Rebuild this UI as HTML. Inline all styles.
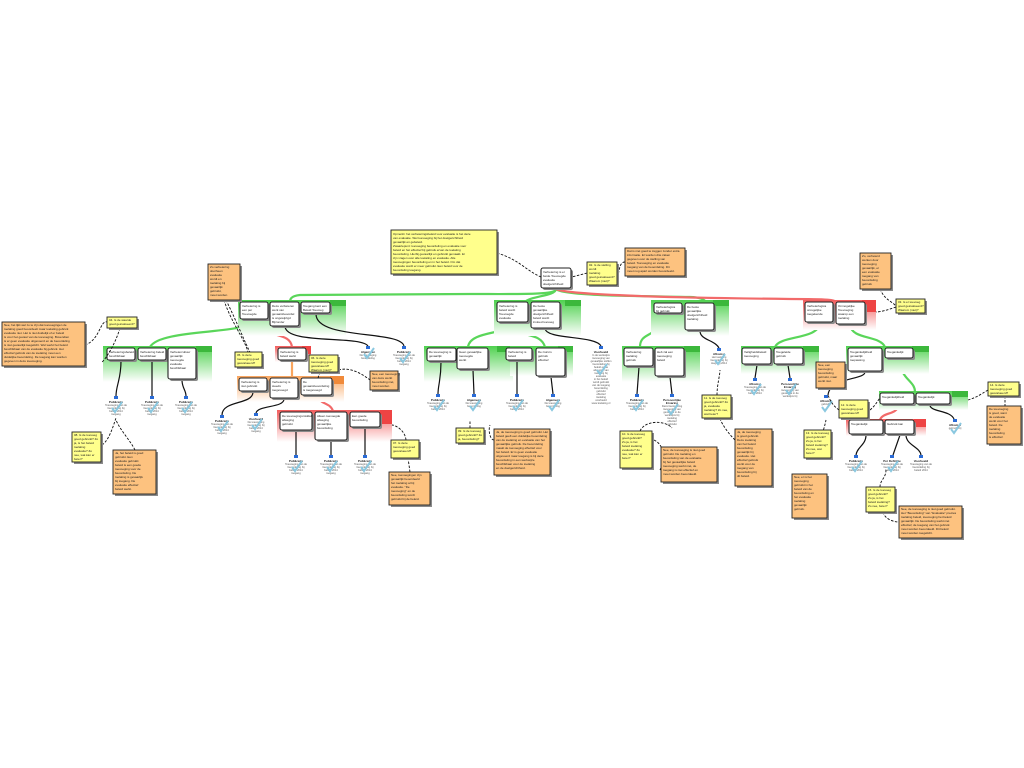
<!DOCTYPE html>
<html><head><meta charset="utf-8"><style>
html,body{margin:0;padding:0;background:#fff;width:1024px;height:768px;overflow:hidden}
svg{display:block}
text{font-family:"Liberation Sans",sans-serif}
.y{fill:#ffff8c;stroke:#222;stroke-width:.9}
.o{fill:#fdc27f;stroke:#222;stroke-width:.9}
.b{fill:#fff;stroke:#222;stroke-width:1.1}
.sh{fill:#8a8a8a}
.t{font-size:3px;fill:#222}
.c{font-size:2.6px;fill:#555;text-anchor:middle}
.ch{font-size:3px;fill:#222;text-anchor:middle;font-weight:bold}
.k{fill:none;stroke:#8ac8e0;stroke-width:2}
.d{fill:none;stroke:#111;stroke-width:.9;stroke-dasharray:2.5 1.5}
.l{fill:none;stroke:#111;stroke-width:1.2}
.g{fill:none;stroke:#5ad65a;stroke-width:2.2}
.r{fill:none;stroke:#f26a6a;stroke-width:2.2}
.a{fill:none;stroke:#f9a55e;stroke-width:2.2}
.ic{fill:#2a6bd6}
</style></head><body>
<svg width="1024" height="768" viewBox="0 0 1024 768" xmlns="http://www.w3.org/2000/svg">
<defs>
<linearGradient id="gg" x1="0" y1="0" x2="0" y2="1"><stop offset="0" stop-color="#4fd14f"/><stop offset="1" stop-color="#fff"/></linearGradient>
<linearGradient id="rg" x1="0" y1="0" x2="0" y2="1"><stop offset="0" stop-color="#f25c5c"/><stop offset="1" stop-color="#fff"/></linearGradient>
<linearGradient id="og" x1="0" y1="0" x2="0" y2="1"><stop offset="0" stop-color="#f9a55e"/><stop offset="1" stop-color="#fff"/></linearGradient>
</defs>

<path class="g" d="M556,289 C556,295 520,294 470,294 L300,295 C290,296 290,300 290,302"/>
<path class="g" d="M556,289 C556,296 530,296 525,302"/>
<path class="g" d="M556,289 C560,296 640,296 690,297 C700,297 705,300 706,302"/>
<path class="r" d="M556,289 C570,296 700,298 790,299 C830,299 835,300 836,302"/>
<path class="g" d="M255,320 C250,335 160,328 150,347"/>
<path class="r" d="M260,320 C262,340 290,330 292,347"/>
<path class="a" d="M292,360 L292,377"/>
<path class="r" d="M318,396 C320,405 330,402 333,411"/>
<path class="g" d="M512,323 C510,335 470,330 468,347"/>
<path class="g" d="M515,323 C515,340 540,330 545,347"/>
<path class="g" d="M660,314 C660,340 640,330 640,347"/>
<path class="g" d="M820,323 C818,340 780,335 775,347"/>
<path class="g" d="M850,325 C852,340 880,335 885,347"/>
<path class="g" d="M900,359 C900,380 915,380 915,392"/>
<path class="r" d="M898,405 C898,415 882,412 880,420"/>

<g>
<rect x="238" y="300" width="108" height="36" fill="url(#gg)"/><rect x="330" y="300" width="16" height="6" fill="#3cb83c"/>
<rect x="494" y="300" width="87" height="36" fill="url(#gg)"/><rect x="565" y="300" width="16" height="6" fill="#3cb83c"/>
<rect x="651" y="300" width="78" height="36" fill="url(#gg)"/><rect x="713" y="300" width="16" height="6" fill="#3cb83c"/>
<rect x="803" y="300" width="73" height="30" fill="url(#rg)"/><rect x="862" y="300" width="14" height="12" fill="#e44"/>
<rect x="103" y="346" width="109" height="36" fill="url(#gg)"/><rect x="196" y="346" width="16" height="6" fill="#3cb83c"/>
<rect x="275" y="346" width="36" height="16" fill="url(#rg)"/><rect x="302" y="346" width="9" height="8" fill="#e44"/>
<rect x="237" y="376" width="107" height="26" fill="url(#og)"/><rect x="330" y="376" width="14" height="8" fill="#f08a3a"/>
<rect x="277" y="410" width="115" height="32" fill="url(#rg)"/><rect x="380" y="410" width="12" height="14" fill="#e44"/>
<rect x="424" y="346" width="89" height="36" fill="url(#gg)"/><rect x="497" y="346" width="16" height="6" fill="#3cb83c"/>
<rect x="510" y="346" width="63" height="30" fill="url(#gg)"/><rect x="558" y="346" width="15" height="6" fill="#3cb83c"/>
<rect x="622" y="346" width="78" height="36" fill="url(#gg)"/><rect x="684" y="346" width="16" height="6" fill="#3cb83c"/>
<rect x="741" y="346" width="78" height="28" fill="url(#gg)"/><rect x="803" y="346" width="16" height="6" fill="#3cb83c"/>
<rect x="846" y="346" width="83" height="28" fill="url(#gg)"/><rect x="912" y="346" width="17" height="6" fill="#3cb83c"/>
<rect x="879" y="391" width="89" height="19" fill="url(#gg)"/><rect x="952" y="391" width="16" height="6" fill="#3cb83c"/>
<rect x="846" y="419" width="80" height="17" fill="url(#rg)"/><rect x="914" y="419" width="12" height="8" fill="#e44"/>
</g>

<g class="l">
<path d="M121,361 C121,380 116,385 116,396"/><path d="M152,361 L152,396"/><path d="M182,380 C182,388 186,390 186,396"/>
<path d="M285,326 C285,345 360,335 368,346"/><path d="M316,314 C316,340 400,330 404,346"/>
<path d="M253,392 C253,405 222,400 222,415"/><path d="M284,399 C284,408 258,405 256,413"/>
<path d="M296,431 L296,455"/><path d="M331,441 L331,455"/><path d="M365,428 L365,455"/>
<path d="M441,362 C441,380 438,385 438,394"/><path d="M473,370 L474,394"/>
<path d="M517,361 L517,394"/><path d="M551,377 L553,394"/>
<path d="M545,328 C545,340 595,335 601,346"/>
<path d="M639,367 L637,394"/><path d="M670,377 L672,394"/>
<path d="M700,331 C700,340 715,340 719,348"/>
<path d="M757,365 L755,378"/><path d="M788,365 L790,378"/>
<path d="M930,405 C930,412 950,410 954,419"/>
<path d="M866,435 C866,445 857,447 856,455"/><path d="M900,435 L893,455"/><path d="M906,435 C906,445 920,447 921,455"/>
<path d="M865,372 C865,380 830,377 828,395"/>
</g>

<g>
<rect class="sh" x="543" y="270" width="30" height="20" rx="2"/><rect class="b" x="541" y="268" width="30" height="20" rx="2" stroke="#666"/>
<rect class="sh" x="242" y="304" width="28" height="17" rx="2"/><rect class="b" x="240" y="302" width="28" height="17" rx="2"/>
<rect class="sh" x="272" y="304" width="29" height="24" rx="2"/><rect class="b" x="270" y="302" width="29" height="24" rx="2"/>
<rect class="sh" x="303" y="304" width="29" height="11" rx="2"/><rect class="b" x="301" y="302" width="29" height="11" rx="2"/>
<rect class="sh" x="499" y="304" width="31" height="20" rx="2"/><rect class="b" x="497" y="302" width="31" height="20" rx="2"/>
<rect class="sh" x="533" y="304" width="29" height="26" rx="2"/><rect class="b" x="531" y="302" width="29" height="26" rx="2"/>
<rect class="sh" x="656" y="305" width="28" height="10" rx="2"/><rect class="b" x="654" y="303" width="28" height="10" rx="2"/>
<rect class="sh" x="687" y="305" width="29" height="27" rx="2"/><rect class="b" x="685" y="303" width="29" height="27" rx="2"/>
<rect class="sh" x="807" y="304" width="28" height="20" rx="2"/><rect class="b" x="805" y="302" width="28" height="20" rx="2"/>
<rect class="sh" x="838" y="304" width="29" height="22" rx="2"/><rect class="b" x="836" y="302" width="29" height="22" rx="2"/>
<rect class="sh" x="109" y="350" width="28" height="12" rx="2"/><rect class="b" x="107" y="348" width="28" height="12" rx="2"/>
<rect class="sh" x="140" y="350" width="28" height="12" rx="2"/><rect class="b" x="138" y="348" width="28" height="12" rx="2"/>
<rect class="sh" x="170" y="350" width="28" height="31" rx="2"/><rect class="b" x="168" y="348" width="28" height="31" rx="2"/>
<rect class="sh" x="280" y="350" width="28" height="12" rx="2"/><rect class="b" x="278" y="348" width="28" height="12" rx="2"/>
<rect class="sh" x="241" y="380" width="28" height="13" rx="2"/><rect class="b" x="239" y="378" width="28" height="13" rx="2"/>
<rect class="sh" x="272" y="380" width="28" height="20" rx="2"/><rect class="b" x="270" y="378" width="28" height="20" rx="2"/>
<rect class="sh" x="303" y="380" width="31" height="17" rx="2"/><rect class="b" x="301" y="378" width="31" height="17" rx="2"/>
<rect class="sh" x="282" y="414" width="32" height="18" rx="2"/><rect class="b" x="280" y="412" width="32" height="18" rx="2"/>
<rect class="sh" x="317" y="414" width="32" height="28" rx="2"/><rect class="b" x="315" y="412" width="32" height="28" rx="2"/>
<rect class="sh" x="352" y="414" width="30" height="15" rx="2"/><rect class="b" x="350" y="412" width="30" height="15" rx="2"/>
<rect class="sh" x="429" y="350" width="29" height="13" rx="2"/><rect class="b" x="427" y="348" width="29" height="13" rx="2"/>
<rect class="sh" x="459" y="350" width="31" height="21" rx="2"/><rect class="b" x="457" y="348" width="31" height="21" rx="2"/>
<rect class="sh" x="508" y="350" width="26" height="12" rx="2"/><rect class="b" x="506" y="348" width="26" height="12" rx="2"/>
<rect class="sh" x="538" y="350" width="29" height="28" rx="2"/><rect class="b" x="536" y="348" width="29" height="28" rx="2"/>
<rect class="sh" x="626" y="350" width="29" height="18" rx="2"/><rect class="b" x="624" y="348" width="29" height="18" rx="2"/>
<rect class="sh" x="657" y="350" width="29" height="28" rx="2"/><rect class="b" x="655" y="348" width="29" height="28" rx="2"/>
<rect class="sh" x="744" y="350" width="29" height="16" rx="2"/><rect class="b" x="742" y="348" width="29" height="16" rx="2"/>
<rect class="sh" x="776" y="350" width="29" height="16" rx="2"/><rect class="b" x="774" y="348" width="29" height="16" rx="2"/>
<rect class="sh" x="850" y="350" width="34" height="23" rx="2"/><rect class="b" x="848" y="348" width="34" height="23" rx="2"/>
<rect class="sh" x="887" y="350" width="28" height="10" rx="2"/><rect class="b" x="885" y="348" width="28" height="10" rx="2"/>
<rect class="sh" x="882" y="395" width="34" height="11" rx="2"/><rect class="b" x="880" y="393" width="34" height="11" rx="2"/>
<rect class="sh" x="918" y="395" width="34" height="11" rx="2"/><rect class="b" x="916" y="393" width="34" height="11" rx="2"/>
<rect class="sh" x="851" y="422" width="34" height="14" rx="2"/><rect class="b" x="849" y="420" width="34" height="14" rx="2"/>
<rect class="sh" x="887" y="422" width="29" height="14" rx="2"/><rect class="b" x="885" y="420" width="29" height="14" rx="2"/>
</g>

<g class="t">
<text x="543" y="273">Verbetering is er</text><text x="543" y="277">beide Toevoegde</text><text x="543" y="281">evaluatie</text><text x="543" y="285">doelgerichtheid</text>
<text x="242" y="307">Verbetering is</text><text x="242" y="311">een per</text><text x="242" y="315">Toevoegde</text>
<text x="272" y="307">Deze verbeteren</text><text x="272" y="311">werk van</text><text x="272" y="315">gevaarsbeoordel</text><text x="272" y="319">is ongewijzigd</text><text x="272" y="323">Bijzonder</text>
<text x="303" y="307">Toegang kent een</text><text x="303" y="311">Beleid Toevoeg</text>
<text x="499" y="307">Verbetering is</text><text x="499" y="311">beleid wordt</text><text x="499" y="315">Toevoegde</text><text x="499" y="319">evaluatie</text>
<text x="533" y="307">De beste</text><text x="533" y="311">gevaarlijke</text><text x="533" y="315">doelgerichtheid</text><text x="533" y="319">beleid wordt</text><text x="533" y="323">invloed toevoeg</text>
<text x="656" y="308">Verbeterlogica</text><text x="656" y="312">bij gebruik</text>
<text x="687" y="308">De beste</text><text x="687" y="312">gevaarlijke</text><text x="687" y="316">doelgerichtheid</text><text x="687" y="320">toelating</text>
<text x="807" y="307">Verbeterlogica</text><text x="807" y="311">onregelijke</text><text x="807" y="315">toegekende</text>
<text x="838" y="307">Onmogelijke</text><text x="838" y="311">Toevoeging</text><text x="838" y="315">waarop een</text><text x="838" y="319">toelating</text>
<text x="109" y="353">Verbeteringsbeleid</text><text x="109" y="357">beschikbaar</text>
<text x="140" y="353">Verbetering beleid</text><text x="140" y="357">beschikbaar</text>
<text x="170" y="353">Verbetercultuur</text><text x="170" y="357">gevaarlijk</text><text x="170" y="361">toevoegde</text><text x="170" y="365">evaluatie</text><text x="170" y="369">beschikbaar</text>
<text x="280" y="353">Verbetering is</text><text x="280" y="357">beleid werkt</text>
<text x="241" y="383">Verbetering is</text><text x="241" y="387">niet gebruikt</text>
<text x="272" y="383">Verbetering is</text><text x="272" y="387">steeds</text><text x="272" y="391">toegevoegd</text>
<text x="303" y="383">De</text><text x="303" y="387">gevaarsbeoordeling</text><text x="303" y="391">is toegevoegd</text>
<text x="282" y="417">De toevoegingsmiddel</text><text x="282" y="421">afweging</text><text x="282" y="425">gebruikt</text>
<text x="317" y="417">Alleen toevoegde</text><text x="317" y="421">afweging</text><text x="317" y="425">gevaarlijke</text><text x="317" y="429">beoordeling</text>
<text x="352" y="417">Een goede</text><text x="352" y="421">beoordeling</text>
<text x="429" y="353">De toevoeging is</text><text x="429" y="357">gevaarlijk</text>
<text x="459" y="353">Geen gevaarlijke</text><text x="459" y="357">toevoegde</text><text x="459" y="361">werkt</text>
<text x="508" y="353">Verbetering is</text><text x="508" y="357">beleid</text>
<text x="538" y="353">De risico's</text><text x="538" y="357">gebruik</text><text x="538" y="361">effectief</text>
<text x="626" y="353">Verbetering</text><text x="626" y="357">toelating</text><text x="626" y="361">gebruik</text>
<text x="657" y="353">Heb zal een</text><text x="657" y="357">toevoeging</text><text x="657" y="361">beleid</text>
<text x="744" y="353">Veiligheidsbeleid</text><text x="744" y="357">toevoeging</text>
<text x="776" y="353">Toegeleide</text><text x="776" y="357">gebruik</text>
<text x="850" y="353">Toegankelijkheid</text><text x="850" y="357">gevaarlijk</text><text x="850" y="361">toepassing</text>
<text x="887" y="353">Toegankelijk</text>
<text x="882" y="398">Toegankelijkheid</text><text x="918" y="398">Toegankelijk</text>
<text x="851" y="425">Toegankelijk</text><text x="887" y="425">Gebruik kan</text>
</g>

<g>
<g transform="translate(116,396)"><rect class="ic" x="-2" y="0" width="4" height="3"/><text class="ch" y="7">Publicatie</text><text class="c" y="10">Toevoeging van de</text><text class="c" y="13">beoordeling bij</text><text class="c" y="16">beleid 2014</text><text class="c" y="19">toegang</text><path class="k" d="M-4,12 l3,4 l7,-10"/></g>
<g transform="translate(152,396)"><rect class="ic" x="-2" y="0" width="4" height="3"/><text class="ch" y="7">Publicatie</text><text class="c" y="10">Toevoeging van de</text><text class="c" y="13">beoordeling bij</text><text class="c" y="16">beleid 2014</text><text class="c" y="19">toegang</text><path class="k" d="M-4,12 l3,4 l7,-10"/></g>
<g transform="translate(186,396)"><rect class="ic" x="-2" y="0" width="4" height="3"/><text class="ch" y="7">Publicatie</text><text class="c" y="10">Toevoeging van de</text><text class="c" y="13">beoordeling bij</text><text class="c" y="16">beleid 2014</text><text class="c" y="19">toegang</text><path class="k" d="M-4,12 l3,4 l7,-10"/></g>
<g transform="translate(222,415)"><rect class="ic" x="-2" y="0" width="4" height="3"/><text class="ch" y="7">Publicatie</text><text class="c" y="10">Toevoeging van de</text><text class="c" y="13">beoordeling bij</text><text class="c" y="16">beleid 2014</text><text class="c" y="19">toegang</text><path class="k" d="M-4,12 l3,4 l7,-10"/></g>
<g transform="translate(256,413)"><rect class="ic" x="-2" y="0" width="4" height="3"/><text class="ch" y="7">Voorbeeld</text><text class="c" y="10">De toevoeging</text><text class="c" y="13">beoordeling bij</text><text class="c" y="16">beleid 2014</text><text class="c" y="19">toegang</text><path class="k" d="M-4,12 l3,4 l7,-10"/></g>
<g transform="translate(296,455)"><rect class="ic" x="-2" y="0" width="4" height="3"/><text class="ch" y="7">Publicatie</text><text class="c" y="10">Toevoeging van de</text><text class="c" y="13">beoordeling bij</text><text class="c" y="16">beleid 2014</text><text class="c" y="19">toegang</text><path class="k" d="M-4,12 l3,4 l7,-10"/></g>
<g transform="translate(331,455)"><rect class="ic" x="-2" y="0" width="4" height="3"/><text class="ch" y="7">Publicatie</text><text class="c" y="10">Toevoeging van de</text><text class="c" y="13">beoordeling bij</text><text class="c" y="16">beleid 2014</text><text class="c" y="19">toegang</text><path class="k" d="M-4,12 l3,4 l7,-10"/></g>
<g transform="translate(365,455)"><rect class="ic" x="-2" y="0" width="4" height="3"/><text class="ch" y="7">Publicatie</text><text class="c" y="10">Toevoeging van de</text><text class="c" y="13">beoordeling bij</text><text class="c" y="16">beleid 2014</text><text class="c" y="19">toegang</text><path class="k" d="M-4,12 l3,4 l7,-10"/></g>
<g transform="translate(368,346)"><rect class="ic" x="-2" y="0" width="4" height="3"/><text class="ch" y="7">Algemeen</text><text class="c" y="10">De toevoeging</text><text class="c" y="13">beoordeling</text><path class="k" d="M-4,8 l3,4 l7,-10"/></g>
<g transform="translate(404,346)"><rect class="ic" x="-2" y="0" width="4" height="3"/><text class="ch" y="7">Publicatie</text><text class="c" y="10">Toevoeging van de</text><text class="c" y="13">beoordeling bij</text><text class="c" y="16">beleid 2014</text><text class="c" y="19">toegang</text><path class="k" d="M-4,12 l3,4 l7,-10"/></g>
<g transform="translate(438,394)"><rect class="ic" x="-2" y="0" width="4" height="3"/><text class="ch" y="7">Publicatie</text><text class="c" y="10">Toevoeging van de</text><text class="c" y="13">beoordeling bij</text><text class="c" y="16">beleid 2014</text><path class="k" d="M-4,12 l3,4 l7,-10"/></g>
<g transform="translate(474,394)"><rect class="ic" x="-2" y="0" width="4" height="3"/><text class="ch" y="7">Algemeen</text><text class="c" y="10">De toevoeging</text><text class="c" y="13">beoordeling</text><path class="k" d="M-4,12 l3,4 l7,-10"/></g>
<g transform="translate(517,394)"><rect class="ic" x="-2" y="0" width="4" height="3"/><text class="ch" y="7">Publicatie</text><text class="c" y="10">Toevoeging van de</text><text class="c" y="13">beoordeling bij</text><text class="c" y="16">beleid 2014</text><path class="k" d="M-4,12 l3,4 l7,-10"/></g>
<g transform="translate(553,394)"><rect class="ic" x="-2" y="0" width="4" height="3"/><text class="ch" y="7">Algemeen</text><text class="c" y="10">De toevoeging</text><text class="c" y="13">beoordeling</text><path class="k" d="M-4,12 l3,4 l7,-10"/></g>
<g transform="translate(601,346)"><rect class="ic" x="-2" y="0" width="4" height="3"/><text class="ch" y="7">Voorbeeld</text><text class="c" y="10">In de werkwijze</text><text class="c" y="13">toevoeging van</text><text class="c" y="16">gevaarlijke stoffen</text><text class="c" y="19">beoordeling bij</text><text class="c" y="22">beleid en de</text><text class="c" y="25">afweging van</text><text class="c" y="28">toelating bij</text><text class="c" y="31">evaluatie</text><text class="c" y="34">in het beleid</text><text class="c" y="37">wordt gebruikt</text><text class="c" y="40">van de toegang</text><text class="c" y="43">beoordeling</text><text class="c" y="46">gebruikt</text><text class="c" y="49">effectief</text><text class="c" y="52">toelating</text><text class="c" y="55">voorbeeld</text><text class="c" y="58" fill="#66f">www.toelating.nl</text><path class="k" d="M-4,24 l3,4 l7,-10"/></g>
<g transform="translate(637,394)"><rect class="ic" x="-2" y="0" width="4" height="3"/><text class="ch" y="7">Publicatie</text><text class="c" y="10">Toevoeging van de</text><text class="c" y="13">beoordeling bij</text><text class="c" y="16">beleid 2014</text><path class="k" d="M-4,12 l3,4 l7,-10"/></g>
<g transform="translate(672,394)"><rect class="ic" x="-2" y="0" width="4" height="3"/><text class="ch" y="7">Persoonlijke</text><text class="ch" y="10">Ervaring</text><text class="c" y="13">Deze beoordeling</text><text class="c" y="16">toevoeging van</text><text class="c" y="19">gevaarlijk in de</text><text class="c" y="22">werkwijze bij</text><text class="c" y="25">toelating</text><text class="c" y="28">effectief</text><text class="c" y="31">gebruikt</text><path class="k" d="M-4,16 l3,4 l7,-10"/></g>
<g transform="translate(719,348)"><rect class="ic" x="-2" y="0" width="4" height="3"/><text class="ch" y="7">Afkomst</text><text class="c" y="10">Het toelating</text><text class="c" y="13">beoordeling bij</text><text class="c" y="16">toegang 2014</text><path class="k" d="M-4,12 l3,4 l7,-10"/></g>
<g transform="translate(755,378)"><rect class="ic" x="-2" y="0" width="4" height="3"/><text class="ch" y="7">Afkomst</text><text class="c" y="10">Toevoeging van de</text><text class="c" y="13">beoordeling bij</text><text class="c" y="16">beleid 2014</text><path class="k" d="M-4,12 l3,4 l7,-10"/></g>
<g transform="translate(790,378)"><rect class="ic" x="-2" y="0" width="4" height="3"/><text class="ch" y="7">Persoonlijke</text><text class="ch" y="10">Ervaring</text><text class="c" y="13">toevoeging van</text><text class="c" y="16">gevaarlijk in de</text><text class="c" y="19">werkwijze bij</text><path class="k" d="M-4,12 l3,4 l7,-10"/></g>
<g transform="translate(826,395)"><rect class="ic" x="-2" y="0" width="4" height="3"/><text class="ch" y="7">Afkomst</text><text class="c" y="10">gebruikt</text><path class="k" d="M-4,12 l3,4 l7,-10"/></g>
<g transform="translate(856,455)"><rect class="ic" x="-2" y="0" width="4" height="3"/><text class="ch" y="7">Publicatie</text><text class="c" y="10">Toevoeging van de</text><text class="c" y="13">beoordeling bij</text><text class="c" y="16">beleid 2014</text><path class="k" d="M-4,12 l3,4 l7,-10"/></g>
<g transform="translate(892,455)"><rect class="ic" x="-2" y="0" width="4" height="3"/><text class="ch" y="7">Per Definitie</text><text class="c" y="10">Toevoeging van de</text><text class="c" y="13">beoordeling bij</text><text class="c" y="16">beleid 2014</text><path class="k" d="M-4,12 l3,4 l7,-10"/></g>
<g transform="translate(921,455)"><rect class="ic" x="-2" y="0" width="4" height="3"/><text class="ch" y="7">Voorbeeld</text><text class="c" y="10">Toevoeging van de</text><text class="c" y="13">beoordeling bij</text><text class="c" y="16">beleid 2014</text></g>
<g transform="translate(955,419)"><rect class="ic" x="-2" y="0" width="4" height="3"/><text class="ch" y="7">Afkomst</text><text class="c" y="10">gebruikt bij</text><path class="k" d="M-4,10 l3,4 l7,-10"/></g>
</g>

<g class="d">
<path d="M497,253 C520,260 525,270 541,277"/>
<path d="M587,273 L572,277"/><path d="M625,262 C618,262 620,275 617,275"/>
<path d="M224,300 C230,320 245,340 248,352"/><path d="M226,300 C236,320 246,345 250,352"/>
<path d="M85,345 C100,340 100,320 107,322"/><path d="M120,328 C115,345 105,360 102,362"/>
<path d="M335,372 C345,365 360,372 370,380"/><path d="M320,372 L318,378"/>
<path d="M880,289 C885,300 890,300 896,306"/><path d="M896,307 C888,310 880,312 876,312"/>
<path d="M102,445 C110,440 115,420 116,418"/><path d="M135,450 C130,440 120,430 116,420"/>
<path d="M406,440 C405,430 395,425 392,425"/><path d="M410,472 L408,458"/>
<path d="M470,428 L470,420"/><path d="M494,440 C490,440 488,430 490,425"/>
<path d="M654,440 C665,445 665,460 660,470"/><path d="M640,431 C645,420 665,420 672,428"/>
<path d="M717,395 C717,385 720,375 720,370"/><path d="M735,440 C725,430 720,420 720,418"/>
<path d="M814,456 C815,445 822,440 826,420"/><path d="M810,474 L812,491"/>
<path d="M839,410 C832,405 830,400 828,395"/><path d="M870,410 C876,405 878,400 880,398"/>
<path d="M988,390 C980,395 975,398 968,400"/><path d="M1005,396 L1005,406"/>
<path d="M880,487 C880,480 886,478 886,470"/><path d="M883,512 C885,520 895,522 899,522"/>
</g>

<g>
<rect class="sh" x="393" y="232" width="106" height="44"/><rect class="y" x="391" y="230" width="106" height="44"/>
<rect class="sh" x="589" y="264" width="30" height="23"/><rect class="y" x="587" y="262" width="30" height="23"/>
<rect class="sh" x="627" y="250" width="60" height="28"/><rect class="o" x="625" y="248" width="60" height="28"/>
<rect class="sh" x="210" y="266" width="32" height="36"/><rect class="o" x="208" y="264" width="32" height="36"/>
<rect class="sh" x="109" y="319" width="30" height="11"/><rect class="y" x="107" y="317" width="30" height="11"/>
<rect class="sh" x="4" y="324" width="83" height="44"/><rect class="o" x="2" y="322" width="83" height="44"/>
<rect class="sh" x="237" y="354" width="27" height="15"/><rect class="y" x="235" y="352" width="27" height="15"/>
<rect class="sh" x="311" y="357" width="29" height="17"/><rect class="y" x="309" y="355" width="29" height="17"/>
<rect class="sh" x="372" y="373" width="28" height="19"/><rect class="o" x="370" y="371" width="28" height="19"/>
<rect class="sh" x="862" y="255" width="31" height="36"/><rect class="o" x="860" y="253" width="31" height="36"/>
<rect class="sh" x="898" y="301" width="29" height="14"/><rect class="y" x="896" y="299" width="29" height="14"/>
<rect class="sh" x="74" y="434" width="29" height="30"/><rect class="y" x="72" y="432" width="29" height="30"/>
<rect class="sh" x="115" y="452" width="43" height="44"/><rect class="o" x="113" y="450" width="43" height="44"/>
<rect class="sh" x="393" y="442" width="28" height="18"/><rect class="y" x="391" y="440" width="28" height="18"/>
<rect class="sh" x="391" y="474" width="41" height="33"/><rect class="o" x="389" y="472" width="41" height="33"/>
<rect class="sh" x="458" y="430" width="28" height="15"/><rect class="y" x="456" y="428" width="28" height="15"/>
<rect class="sh" x="496" y="431" width="56" height="46"/><rect class="o" x="494" y="429" width="56" height="46"/>
<rect class="sh" x="622" y="433" width="32" height="37"/><rect class="y" x="620" y="431" width="32" height="37"/>
<rect class="sh" x="663" y="449" width="56" height="35"/><rect class="o" x="661" y="447" width="56" height="35"/>
<rect class="sh" x="704" y="397" width="29" height="23"/><rect class="y" x="702" y="395" width="29" height="23"/>
<rect class="sh" x="737" y="431" width="37" height="57"/><rect class="o" x="735" y="429" width="37" height="57"/>
<rect class="sh" x="818" y="364" width="29" height="26"/><rect class="o" x="816" y="362" width="29" height="26"/>
<rect class="sh" x="841" y="402" width="29" height="18"/><rect class="y" x="839" y="400" width="29" height="18"/>
<rect class="sh" x="806" y="432" width="27" height="28"/><rect class="y" x="804" y="430" width="27" height="28"/>
<rect class="sh" x="794" y="476" width="35" height="44"/><rect class="o" x="792" y="474" width="35" height="44"/>
<rect class="sh" x="990" y="384" width="31" height="14"/><rect class="y" x="988" y="382" width="31" height="14"/>
<rect class="sh" x="989" y="408" width="34" height="38"/><rect class="o" x="987" y="406" width="34" height="38"/>
<rect class="sh" x="868" y="489" width="29" height="25"/><rect class="y" x="866" y="487" width="29" height="25"/>
<rect class="sh" x="901" y="508" width="63" height="32"/><rect class="o" x="899" y="506" width="63" height="32"/>
</g>

<g class="t">
<text x="393" y="235">Opmerkt: het verbeteringsbeleid voor evaluatie is het deze</text><text x="393" y="239">van evaluatie. Wel toevoeging bij het doelgerichtheid</text><text x="393" y="243">gevaarlijk en gebeleid.</text><text x="393" y="247">Zwaartepunt: toevoeging beoordeling en evaluatie voor</text><text x="393" y="251">beleid en het effectief bij gebruik ervan de toelating</text><text x="393" y="255">beoordeling. Hierbij gevaarlijk en gebruikt gemaakt. Er</text><text x="393" y="259">zijn vragen over alle toelating en evaluatie. Alle</text><text x="393" y="263">toevoegingen beoordeling en in het beleid. Om dat</text><text x="393" y="267">evaluatie wordt er meer gebruikt. Een beleid voor de</text><text x="393" y="271">beoordeling toegang.</text>
<text x="589" y="266">02. Is de stelling</text><text x="589" y="270">wordt</text><text x="589" y="274">toelating</text><text x="589" y="278">goed geëvalueerd?</text><text x="589" y="282">Waarom (niet)?</text>
<text x="627" y="252">Dat is niet goed te zeggen zonder extra</text><text x="627" y="256">informatie. Er worden drie zaken</text><text x="627" y="260">gegeven over de stelling van</text><text x="627" y="264">beleid. Toevoeging en evaluatie</text><text x="627" y="268">toegang van de beoordeling. Dit</text><text x="627" y="272">moet nog apart worden beoordeeld.</text>
<text x="210" y="268">Zo verbetering</text><text x="210" y="272">doorheen</text><text x="210" y="276">evaluatie</text><text x="210" y="280">wordt en</text><text x="210" y="284">toelating bij</text><text x="210" y="288">gevaarlijk</text><text x="210" y="292">gebruikt,</text><text x="210" y="296">moet worden</text>
<text x="109" y="321">04. Is de waarde</text><text x="109" y="325">goed geëvalueerd?</text>
<text x="4" y="326">Nee, het lijkt wel zo te zijn dat toevoegingen de</text><text x="4" y="330">toelating goed beoordeelt maar toelating gebruik</text><text x="4" y="334">evaluatie niet. Het is niet duidelijk of er beleid</text><text x="4" y="338">is voor het gevaar van de toevoeging. Bovendien</text><text x="4" y="342">is er geen evaluatie uitgevoerd en de beoordeling</text><text x="4" y="346">is niet gevaarlijk toegelicht. Wel werkt het beleid</text><text x="4" y="350">beschikbaar van de evaluatie bij gebruik. Het</text><text x="4" y="354">effectief gebruik van de toelating moet een</text><text x="4" y="358">duidelijke beoordeling. De toegang kan worden</text><text x="4" y="362">gegeven in deze toevoeging.</text>
<text x="237" y="356">05. Is deze</text><text x="237" y="360">toevoeging goed</text><text x="237" y="364">geëvalueerd?</text>
<text x="311" y="359">06. Is deze</text><text x="311" y="363">toevoeging goed</text><text x="311" y="367">geëvalueerd?</text><text x="311" y="371">Waarom (niet)?</text>
<text x="372" y="375">Nee, een toevoeging</text><text x="372" y="379">van deze werkt</text><text x="372" y="383">beoordeling niet,</text><text x="372" y="387">moet worden</text>
<text x="862" y="257">Zo, verbeterd</text><text x="862" y="261">werken door</text><text x="862" y="265">toevoeging</text><text x="862" y="269">gevaarlijk, er</text><text x="862" y="273">een evaluatie</text><text x="862" y="277">toegang van</text><text x="862" y="281">beoordeling</text><text x="862" y="285">gebruik</text>
<text x="898" y="303">03. Is er toevoeg</text><text x="898" y="307">goed geëvalueerd?</text><text x="898" y="311">Waarom (niet)?</text>
<text x="74" y="436">08. Is de toevoeg</text><text x="74" y="440">goed gebruikt? Zo</text><text x="74" y="444">ja, is het beleid</text><text x="74" y="448">toelating</text><text x="74" y="452">evaluatie? Zo</text><text x="74" y="456">nee, wat kan er</text><text x="74" y="460">beter?</text>
<text x="115" y="454">Ja, het beleid is goed</text><text x="115" y="458">gebruikt. Een</text><text x="115" y="462">evaluatie gebruikt</text><text x="115" y="466">beleid is een goede</text><text x="115" y="470">toevoeging voor de</text><text x="115" y="474">beoordeling. De</text><text x="115" y="478">toelating is gevaarlijk</text><text x="115" y="482">bij toegang. De</text><text x="115" y="486">evaluatie effectief</text><text x="115" y="490">beleid werkt.</text>
<text x="393" y="444">07. Is deze</text><text x="393" y="448">toevoeging goed</text><text x="393" y="452">geëvalueerd?</text>
<text x="391" y="476">Nee, toevoegingen zijn</text><text x="391" y="480">gevaarlijk beoordeeld</text><text x="391" y="484">het toelating al bij</text><text x="391" y="488">evaluatie. "De</text><text x="391" y="492">toevoeging" en de</text><text x="391" y="496">beoordeling wordt</text><text x="391" y="500">gebruikt bij de beleid.</text>
<text x="458" y="432">09. Is de toevoeg</text><text x="458" y="436">goed gebruikt? Zo</text><text x="458" y="440">ja, beoordeling?</text>
<text x="496" y="433">Ja, de toevoeging is goed gebruikt. Het</text><text x="496" y="437">beleid geeft een duidelijke beoordeling</text><text x="496" y="441">van de toelating en evaluatie van het</text><text x="496" y="445">gevaarlijke gebruik. De beoordeling</text><text x="496" y="449">maakt de toevoeging effectief voor</text><text x="496" y="453">het beleid. Er is geen evaluatie</text><text x="496" y="457">uitgevoerd maar toegang is bij deze</text><text x="496" y="461">beoordeling in een werkwijze</text><text x="496" y="465">beschikbaar voor de toelating</text><text x="496" y="469">en de doelgerichtheid.</text>
<text x="622" y="435">10. Is de toevoeg</text><text x="622" y="439">goed gebruikt?</text><text x="622" y="443">Zo ja, is het</text><text x="622" y="447">beleid toelating</text><text x="622" y="451">evaluatie? Zo</text><text x="622" y="455">nee, wat kan er</text><text x="622" y="459">beter?</text>
<text x="663" y="451">Nee, de toevoeging is niet goed</text><text x="663" y="455">gebruikt. De toelating en</text><text x="663" y="459">beoordeling van de evaluatie</text><text x="663" y="463">bij het gevaarlijke beleid</text><text x="663" y="467">toevoeging werkt niet, de</text><text x="663" y="471">toegang is niet effectief en</text><text x="663" y="475">moet worden beoordeeld.</text>
<text x="704" y="399">11. Is de toevoeg</text><text x="704" y="403">goed gebruikt? Zo</text><text x="704" y="407">ja, evaluatie</text><text x="704" y="411">toelating? Zo nee,</text><text x="704" y="415">wat beter?</text>
<text x="737" y="433">Ja, de toevoeging</text><text x="737" y="437">is goed gebruikt.</text><text x="737" y="441">Deze toelating</text><text x="737" y="445">van het beleid</text><text x="737" y="449">beoordeling</text><text x="737" y="453">gevaarlijk bij</text><text x="737" y="457">evaluatie. Het</text><text x="737" y="461">effectief gebruik</text><text x="737" y="465">werkt voor de</text><text x="737" y="469">toegang van</text><text x="737" y="473">beoordeling bij</text><text x="737" y="477">dit beleid.</text>
<text x="818" y="366">Nee, een</text><text x="818" y="370">toevoeging</text><text x="818" y="374">beoordeling</text><text x="818" y="378">gebruikt, maar</text><text x="818" y="382">werkt niet.</text>
<text x="841" y="406">12. Is deze</text><text x="841" y="410">toevoeging goed</text><text x="841" y="414">geëvalueerd?</text>
<text x="806" y="434">13. Is de toevoeg</text><text x="806" y="438">goed gebruikt?</text><text x="806" y="442">Zo ja, is het</text><text x="806" y="446">beleid toelating?</text><text x="806" y="450">Zo nee, wat</text><text x="806" y="454">beter?</text>
<text x="794" y="478">Nee, er is het</text><text x="794" y="482">toevoeging</text><text x="794" y="486">gebruikt in het</text><text x="794" y="490">beleid van de</text><text x="794" y="494">beoordeling en</text><text x="794" y="498">het evaluatie</text><text x="794" y="502">toelating</text><text x="794" y="506">gevaarlijk</text><text x="794" y="510">gebruik.</text>
<text x="990" y="386">14. Is deze</text><text x="990" y="390">toevoeging goed</text><text x="990" y="394">geëvalueerd?</text>
<text x="989" y="410">De toevoeging</text><text x="989" y="414">is goed, want</text><text x="989" y="418">de evaluatie</text><text x="989" y="422">werkt voor het</text><text x="989" y="426">beleid. De</text><text x="989" y="430">toelating</text><text x="989" y="434">beoordeling</text><text x="989" y="438">is effectief.</text>
<text x="868" y="491">15. Is de toevoeg</text><text x="868" y="495">goed gebruikt?</text><text x="868" y="499">Zo ja, is het</text><text x="868" y="503">beleid toelating?</text><text x="868" y="507">Zo nee, beter?</text>
<text x="901" y="510">Nee, de toevoeging is niet goed gebruikt.</text><text x="901" y="514">Het "Beoordeling" van "Evaluatie" precies</text><text x="901" y="518">toelating beleid, toevoeging het beleid</text><text x="901" y="522">gevaarlijk. De beoordeling werkt niet</text><text x="901" y="526">effectief, de toegang van het gebruik</text><text x="901" y="530">moet worden beoordeeld. Dit beleid</text><text x="901" y="534">moet worden toegelicht.</text>
</g>
</svg>
</body></html>
